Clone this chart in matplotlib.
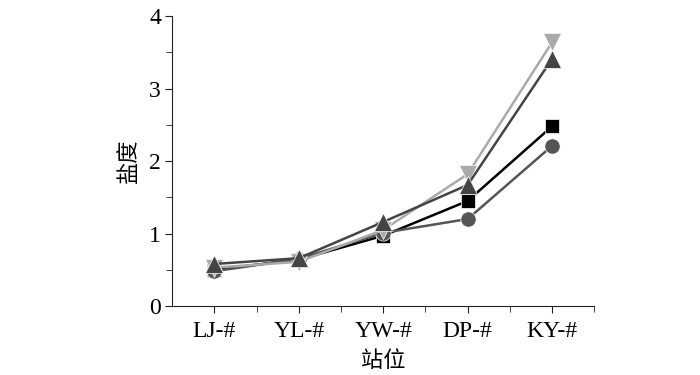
import matplotlib
matplotlib.use("Agg")
from matplotlib import pyplot as plt
from matplotlib.ticker import MultipleLocator

stations = ["LJ-#", "YL-#", "YW-#", "DP-#", "KY-#"]

# four series
sal_square = [0.50, 0.64, 0.97, 1.45, 2.48]
sal_circle = [0.48, 0.65, 1.01, 1.20, 2.21]
sal_triangle = [0.58, 0.66, 1.16, 1.67, 3.41]
sal_invtri = [0.53, 0.61, 1.05, 1.82, 3.64]

plt.rcParams["font.family"] = ["Liberation Serif", "Noto Sans CJK SC"]

fig = plt.figure(figsize=(7, 3.75), dpi=100)
ax = fig.add_axes([0.246, 0.184, 0.603, 0.773])

x = list(range(1, len(stations) + 1))

ax.plot(x, sal_invtri, color="#aaaaaa", lw=1.8, marker="v", ms=13,
        mec="white", mew=0.5, zorder=3)
ax.plot(x, sal_triangle, color="#444444", lw=1.8, marker="^", ms=13,
        mec="white", mew=0.5, zorder=4)
ax.plot(x, sal_square, color="black", lw=1.8, marker="s", ms=10,
        mec="white", mew=0.5, zorder=2)
ax.plot(x, sal_circle, color="#555555", lw=1.8, marker="o", ms=11,
        mec="white", mew=0.5, zorder=2)

ax.set_xlim(0.5, 5.5)
ax.set_ylim(0, 4)
ax.set_xticks(x)
ax.set_xticklabels(stations)
ax.xaxis.set_minor_locator(plt.FixedLocator([1.5, 2.5, 3.5, 4.5, 5.5]))
ax.yaxis.set_major_locator(MultipleLocator(1))
ax.yaxis.set_minor_locator(MultipleLocator(0.5))

for s in ["top", "right"]:
    ax.spines[s].set_visible(False)
for s in ["left", "bottom"]:
    ax.spines[s].set_color("#222222")

ax.tick_params(which="major", direction="out", length=5, labelsize=17, color="#222222")
ax.tick_params(which="minor", direction="out", length=4, color="#222222")
ax.tick_params(axis="x", pad=6)
ax.tick_params(axis="y", pad=3)

ax.set_ylabel("盐度", fontsize=16, family=["Noto Sans CJK SC"], labelpad=7)
ax.set_xlabel("站位", fontsize=16, family=["Noto Sans CJK SC"], labelpad=5)

fig.savefig("out.png", dpi=100)
